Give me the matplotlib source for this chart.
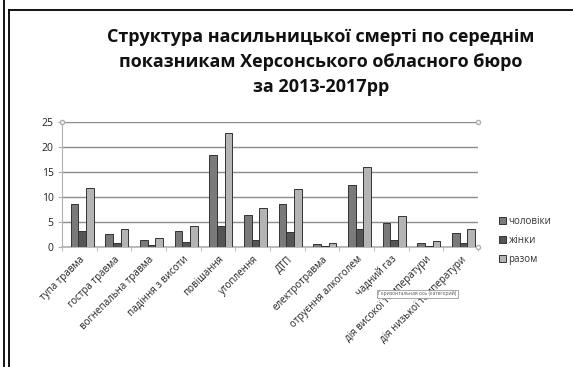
import numpy as np
import matplotlib.pyplot as plt
from matplotlib.lines import Line2D

categories = ["тупа травма", "гостра травма", "вогнепальна травма", "падіння з висоти",
              "повішання", "утоплення", "ДТП", "електротравма", "отруєння алкоголем",
              "чадний газ", "дія високої температури", "дія низької температури"]
men = [8.7, 2.7, 1.4, 3.2, 18.5, 6.4, 8.6, 0.6, 12.4, 4.8, 0.9, 2.9]
women = [3.2, 0.9, 0.4, 1.0, 4.3, 1.4, 3.1, 0.2, 3.6, 1.4, 0.3, 0.8]
total = [11.8, 3.6, 1.8, 4.2, 22.8, 7.8, 11.7, 0.8, 16.0, 6.2, 1.3, 3.7]
series_names = ["чоловіки", "жінки", "разом"]
colors = ["#7a7a7a", "#555555", "#b4b4b4"]

plt.rcParams['font.family'] = ['Open Sans', 'DejaVu Sans']

W, H = 573, 367
fig = plt.figure(figsize=(W / 100, H / 100), dpi=100)

ax = fig.add_axes([62 / W, 1 - 247 / H, (478 - 62) / W, 125 / H])
x = np.arange(len(categories))
width = 0.22
for i, (vals, name, c) in enumerate(zip([men, women, total], series_names, colors)):
    ax.bar(x + (i - 1) * width + 0.08, vals, width, color=c, edgecolor="#333333",
           linewidth=0.7, label=name, zorder=3)

ax.set_xlim(-0.5, len(categories) - 0.5)
ax.set_ylim(0, 25)
ax.set_yticks(range(0, 26, 5))
ax.yaxis.grid(True, color="#8c8c8c", linewidth=1.0, zorder=0)
for s in ["top", "right"]:
    ax.spines[s].set_visible(False)
ax.spines["left"].set_color("#b0b0b0")
ax.spines["bottom"].set_color("#b0b0b0")
ax.spines["bottom"].set_linewidth(1.2)
ax.tick_params(axis="y", length=3, color="#b0b0b0", labelsize=7.5, labelcolor="#222222", pad=3)
ax.set_xticks(np.arange(len(categories) + 1) - 0.5, minor=True)
ax.tick_params(axis="x", which="minor", length=3, color="#b0b0b0")
ax.set_xticks(x)
ax.set_xticklabels(categories, rotation=45, ha="right", rotation_mode="anchor",
                   fontsize=7, color="#222222")
ax.tick_params(axis="x", which="major", length=0, pad=5)
for xx in [-0.5, len(categories) - 0.5]:
    ax.plot(xx, 25, "o", ms=3, mfc="white", mec="#b0b0b0", clip_on=False, zorder=4)
ax.plot(len(categories) - 0.5, 0, "o", ms=3, mfc="white", mec="#b0b0b0", clip_on=False, zorder=4)

handles, labels = ax.get_legend_handles_labels()
fig.legend(handles, labels, loc="upper left", bbox_to_anchor=(490 / W, 1 - 207 / H),
           frameon=False, fontsize=7, handlelength=0.7, handleheight=0.7,
           handletextpad=0.3, labelspacing=0.85, labelcolor="#333333")

title_lines = ["Структура насильницької смерті по середнім",
               "показникам Херсонського обласного бюро",
               "за 2013-2017рр"]
for yy, line in zip([37, 62, 87], title_lines):
    fig.text(321 / W, 1 - yy / H, line, ha="center", va="center",
             fontsize=13, fontweight="bold", color="#111111")

# small hover hint box over the category axis
fig.text(378 / W, 1 - 294 / H, "Горизонтальная ось (категорий)", ha="left", va="center",
         fontsize=3.6, color="#555555",
         bbox=dict(boxstyle="square,pad=0.3", fc="white", ec="#999999", lw=0.6))

# double frame on the left and top
fig.add_artist(Line2D([3.5 / W, 3.5 / W], [0, 1], color="black", lw=1.3))
fig.add_artist(Line2D([8.5 / W, 8.5 / W], [0, 1 - 9.5 / H], color="black", lw=1.3))
fig.add_artist(Line2D([8.5 / W, 1], [1 - 9.5 / H, 1 - 9.5 / H], color="black", lw=1.3))

fig.savefig("out.png", dpi=100)
